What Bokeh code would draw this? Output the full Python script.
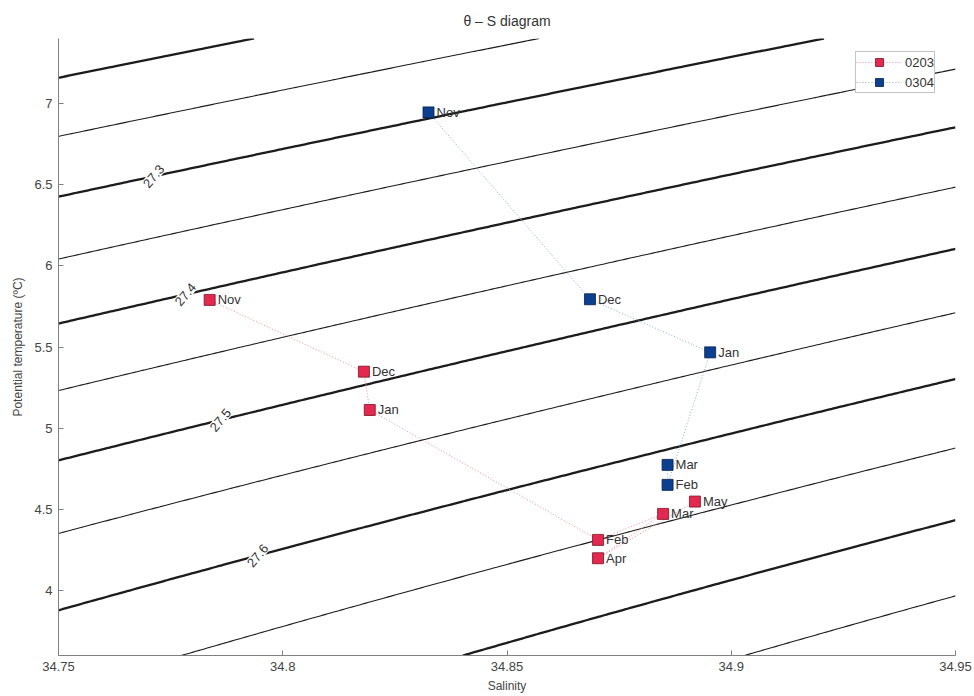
import numpy as np
from bokeh.plotting import figure
from bokeh.models import (Label, Legend, LegendItem, FixedTicker, ColumnDataSource)
from bokeh.core.properties import value
from bokeh.embed import file_html
from bokeh.resources import INLINE

# ---- observations: monthly mean salinity / potential temperature ----
months_0203 = ["Nov", "Dec", "Jan", "Feb", "Mar", "Apr", "May"]
sal_0203 = [34.7837, 34.8181, 34.8194, 34.8703, 34.8848, 34.8703, 34.8919]
theta_0203 = [5.79, 5.348, 5.112, 4.312, 4.472, 4.199, 4.548]

months_0304 = ["Nov", "Dec", "Jan", "Feb", "Mar"]
sal_0304 = [34.8325, 34.8685, 34.8953, 34.8858, 34.8858]
theta_0304 = [6.945, 5.794, 5.467, 4.651, 4.774]

# isopycnal levels (sigma-theta, kg/m^3); every 0.1 is drawn bold and may be labelled
sigma_levels = [27.20, 27.25, 27.30, 27.35, 27.40, 27.45, 27.50, 27.55, 27.60, 27.65, 27.70, 27.75]
labelled_levels = [27.3, 27.4, 27.5, 27.6]
label_salinity = [34.7712, 34.7783, 34.7861, 34.7944]

x_ticks = [34.75, 34.8, 34.85, 34.9, 34.95]
x_tick_labels = ["34.75", "34.8", "34.85", "34.9", "34.95"]
y_ticks = [4, 4.5, 5, 5.5, 6, 6.5, 7]
y_tick_labels = ["4", "4.5", "5", "5.5", "6", "6.5", "7"]

S_MIN, S_MAX = 34.75, 34.95
T_MIN, T_MAX = 3.6, 7.4


def sigma0(S, T):
    """UNESCO (EOS-80) one-atmosphere density anomaly, kg/m^3."""
    S = np.asarray(S, dtype=float)
    T = np.asarray(T, dtype=float)
    rho_w = (999.842594 + 6.793952e-2 * T - 9.095290e-3 * T**2 + 1.001685e-4 * T**3
             - 1.120083e-6 * T**4 + 6.536332e-9 * T**5)
    A = 8.24493e-1 - 4.0899e-3 * T + 7.6438e-5 * T**2 - 8.2467e-7 * T**3 + 5.3875e-9 * T**4
    B = -5.72466e-3 + 1.0227e-4 * T - 1.6546e-6 * T**2
    C = 4.8314e-4
    return rho_w + A * S + B * S**1.5 + C * S**2 - 1000.0


def theta_on_isopycnal(S, level):
    """Potential temperature where sigma0(S, T) == level (bisection)."""
    lo, hi = -2.0, 30.0
    for _ in range(60):
        mid = 0.5 * (lo + hi)
        if sigma0(S, mid) > level:
            lo = mid
        else:
            hi = mid
    return 0.5 * (lo + hi)


FONT = "Liberation Sans"
TEXT = "#333333"
AXIS = "#808080"

p = figure(width=974, height=696, x_range=(S_MIN, S_MAX), y_range=(T_MIN, T_MAX),
           output_backend="svg", toolbar_location=None,
           min_border_left=58, min_border_right=19, min_border_top=38, min_border_bottom=41,
           background_fill_color="white", border_fill_color="white")
p.outline_line_color = None
p.grid.visible = False

p.title.text = "\u03b8 \u2013 S diagram"
p.title.align = "center"
p.title.text_font = FONT
p.title.text_font_size = "14px"
p.title.text_font_style = "normal"
p.title.text_color = TEXT
p.title.standoff = 19

# ---- density contours ----
sal_grid = np.linspace(S_MIN, S_MAX, 241)
th_grid = np.linspace(T_MIN, T_MAX, 241)
SS, TT = np.meshgrid(sal_grid, th_grid)
sig = sigma0(SS, TT)
widths = [2.3 if abs(round(l * 10) - l * 10) < 1e-6 else 1.1 for l in sigma_levels]
p.contour(sal_grid, th_grid, sig, levels=sigma_levels, line_color="#1c1c1c", line_width=widths)

for lev, s in zip(labelled_levels, label_salinity):
    t = theta_on_isopycnal(s, lev)
    p.add_layout(Label(x=s, y=t, text=f"{lev:.1f}", angle=0.87, text_align="center",
                       text_baseline="middle", text_font=FONT, text_font_size="13px",
                       text_color=TEXT, background_fill_color="white",
                       background_fill_alpha=1.0, padding=1))

# ---- the two seasons ----
def season(sal, theta, months, line_col, fill_col, edge_col):
    src = ColumnDataSource(dict(s=sal, t=theta, m=months))
    ln = p.line("s", "t", source=src, line_color=line_col, line_width=1, line_dash="1 2")
    sc = p.scatter("s", "t", source=src, marker="square", size=11, fill_color=fill_col,
                   line_color=edge_col, line_width=0.8)
    p.text("s", "t", text="m", source=src, x_offset=8, text_baseline="middle",
           text_align="left", text_font=value(FONT), text_font_size="13px", text_color=TEXT)
    return ln, sc

r1 = season(sal_0203, theta_0203, months_0203, "#f28a9c", "#e4284f", "#7a1426")
r2 = season(sal_0304, theta_0304, months_0304, "#8ea6d6", "#0c3f8f", "#04204f")

# legend box placed in frame pixels, measured from the frame's bottom-left corner
legend = Legend(items=[LegendItem(label="0203", renderers=list(r1)),
                       LegendItem(label="0304", renderers=list(r2))],
                location=(797, 562), padding=0, spacing=0,
                glyph_width=46, glyph_height=20, label_standoff=3, label_height=18,
                label_text_font=FONT, label_text_font_size="13px", label_text_color=TEXT,
                border_line_color="#8a8a8a", border_line_width=1,
                background_fill_color="white", background_fill_alpha=1.0)
p.add_layout(legend)

# ---- axes ----
for ax in (p.xaxis[0], p.yaxis[0]):
    ax.axis_line_color = AXIS
    ax.major_tick_line_color = AXIS
    ax.major_tick_in = 5
    ax.major_tick_out = 0
    ax.minor_tick_line_color = None
    ax.major_label_text_font = FONT
    ax.major_label_text_font_size = "13px"
    ax.major_label_text_color = "#444444"
    ax.axis_label_text_font = FONT
    ax.axis_label_text_font_size = "12px"
    ax.axis_label_text_font_style = "normal"
    ax.axis_label_text_color = "#444444"

p.xaxis.ticker = FixedTicker(ticks=x_ticks)
p.xaxis.major_label_overrides = {t: l for t, l in zip(x_ticks, x_tick_labels)}
p.xaxis.axis_label = "Salinity"
p.xaxis.major_label_standoff = 6
p.xaxis.axis_label_standoff = 5

p.yaxis.ticker = FixedTicker(ticks=y_ticks)
p.yaxis.major_label_overrides = {t: l for t, l in zip(y_ticks, y_tick_labels)}
p.yaxis.axis_label = "Potential temperature (\u00baC)"
p.yaxis.major_label_standoff = 6
p.yaxis.axis_label_standoff = 6

open("out.html", "w").write(file_html(p, INLINE))
